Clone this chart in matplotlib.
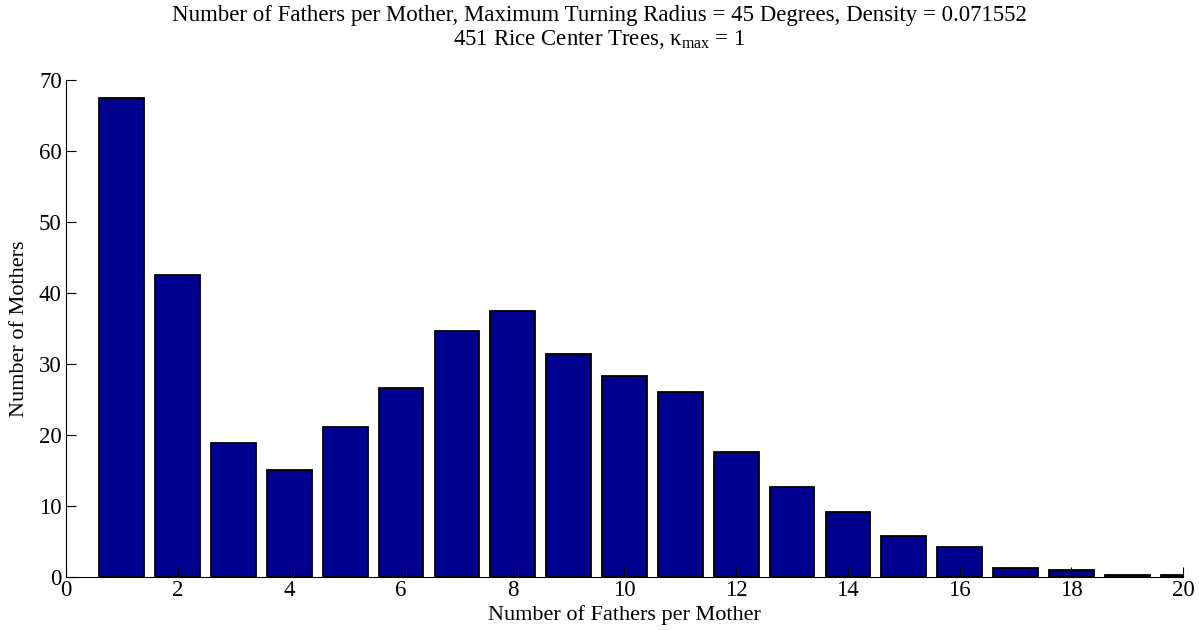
import matplotlib
matplotlib.use('Agg')
import matplotlib.pyplot as plt
import numpy as np

# histogram of fathers per mother
num_fathers = np.arange(1, 21)
num_mothers = [67.5, 42.5, 18.9, 15.1, 21.1, 26.6, 34.6, 37.5, 31.4, 28.3,
               26.1, 17.6, 12.7, 9.15, 5.8, 4.2, 1.2, 0.95, 0.35, 0.3]

plt.rcParams['font.family'] = ['Liberation Serif', 'DejaVu Serif']
plt.rcParams['mathtext.fontset'] = 'custom'
plt.rcParams['mathtext.rm'] = 'Liberation Serif'
plt.rcParams['mathtext.it'] = 'Liberation Serif'

fig = plt.figure(figsize=(11.99, 6.3), dpi=100)
ax = fig.add_axes([0.055, 0.0841, 0.9317, 0.7889])

ax.bar(num_fathers, num_mothers, width=0.8, color='#00008F',
       edgecolor='black', linewidth=1.3)

ax.set_xlim(0, 20)
ax.set_ylim(0, 70)
ax.set_xticks(np.arange(0, 21, 2))
ax.set_yticks(np.arange(0, 71, 10))
ax.tick_params(direction='in', length=7, labelsize=16.5, width=0.8)
ax.tick_params(axis='x', pad=2)
ax.tick_params(axis='y', pad=3)
for s in ['top', 'right']:
    ax.spines[s].set_visible(False)
for s in ['left', 'bottom']:
    ax.spines[s].set_linewidth(0.8)

ax.set_xlabel('Number of Fathers per Mother', fontsize=16, labelpad=3)
ax.set_ylabel('Number of Mothers', fontsize=16, labelpad=7)

fig.text(0.5, 0.975, 'Number of Fathers per Mother, Maximum Turning Radius = 45 Degrees, Density = 0.071552',
         ha='center', va='center', fontsize=16.5)
fig.text(0.5, 0.938, r'451 Rice Center Trees, $\kappa_{\mathrm{max}}$ = 1',
         ha='center', va='center', fontsize=16.5)

fig.savefig('out.png', dpi=100)
